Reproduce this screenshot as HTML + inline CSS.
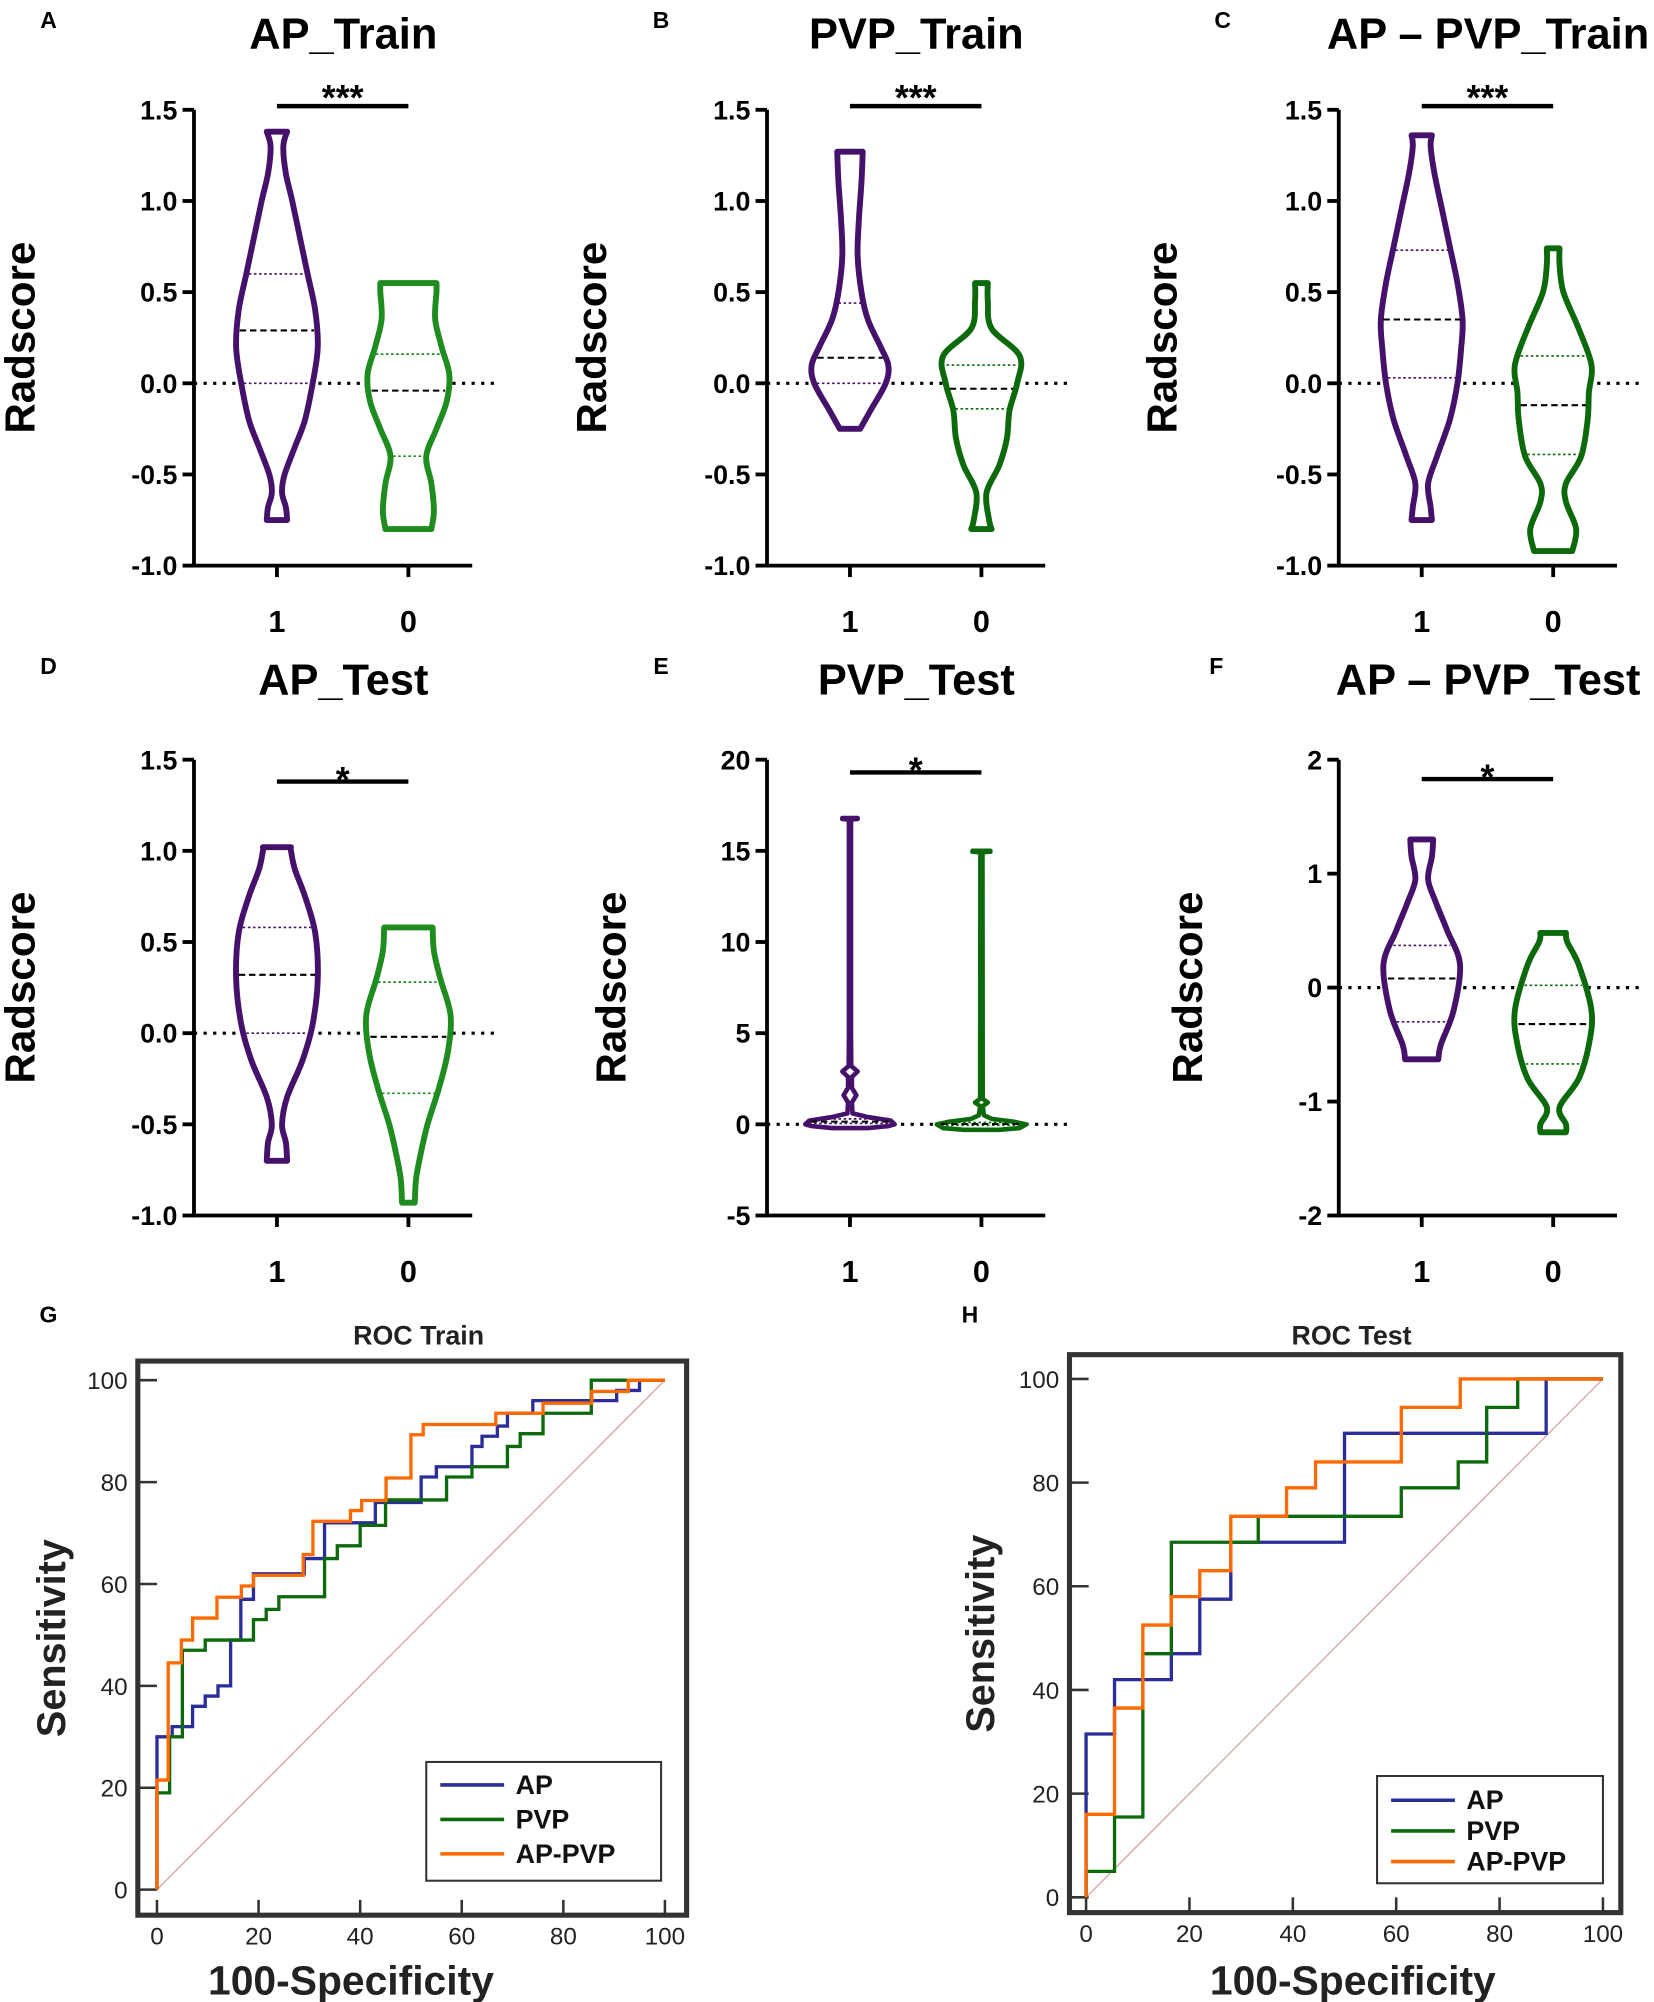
<!DOCTYPE html>
<html><head><meta charset="utf-8"><style>
html,body{margin:0;padding:0;background:#fff}
svg{display:block}
text{font-family:"Liberation Sans",Arial,sans-serif}
</style></head><body>
<svg id="fig" width="1654" height="2002" viewBox="0 0 1296 1568" preserveAspectRatio="none" xmlns="http://www.w3.org/2000/svg"></svg>
<script>
// ---------- Violin data (value, relative half-width) ----------
const A1_profile=[[-0.75,8],[-0.68,7],[-0.6,4],[-0.5,6],[-0.35,14],[-0.2,22],[0,28],[0.2,32],[0.4,30],[0.6,24],[0.8,18],[1.0,12],[1.15,7],[1.3,5],[1.38,8]];
const A0_profile=[[-0.8,18],[-0.7,20],[-0.55,18],[-0.4,14],[-0.25,22],[-0.1,30],[0.05,32],[0.2,26],[0.35,21],[0.5,22],[0.55,22]];
const B1_profile=[[-0.25,8],[-0.15,16],[0,28],[0.1,30],[0.2,24],[0.35,14],[0.5,9],[0.7,6],[0.9,7],[1.1,9],[1.27,10]];
const B0_profile=[[-0.8,8],[-0.75,6],[-0.6,4],[-0.45,14],[-0.3,20],[-0.15,22],[0,28],[0.15,30],[0.3,8],[0.45,5],[0.55,5]];
const C1_profile=[[-0.75,8],[-0.68,7],[-0.55,5],[-0.4,12],[-0.2,22],[0,28],[0.2,31],[0.35,32],[0.55,28],[0.75,22],[0.95,16],[1.15,10],[1.3,7],[1.36,8]];
const C0_profile=[[-0.92,15],[-0.8,18],[-0.65,10],[-0.55,10],[-0.4,22],[-0.2,27],[-0.05,28],[0.1,30],[0.3,20],[0.5,8],[0.65,5],[0.74,5]];
const D1_profile=[[-0.7,8],[-0.6,7],[-0.5,4],[-0.35,8],[-0.15,20],[0.05,28],[0.3,32],[0.55,30],[0.75,22],[0.9,14],[1.0,11],[1.02,11]];
const D0_profile=[[-0.93,5],[-0.8,6],[-0.65,10],[-0.5,15],[-0.3,24],[-0.1,31],[0.1,33],[0.3,25],[0.45,20],[0.58,19]];
const E1_profile=[[-0.2,14],[-0.1,30],[0,35],[0.2,32],[0.4,14],[0.6,2],[1.2,1.5],[1.6,5],[2,1.5],[2.6,1.5],[2.9,6],[3.2,1],[5,0.8],[16.72,0.8],[16.75,6],[16.8,6]];
const E0_profile=[[-0.3,14],[-0.2,30],[0,35],[0.15,25],[0.3,8],[0.5,2],[1,1],[1.2,5],[1.4,1],[14.92,0.8],[14.95,7],[15,7]];
const F1_profile=[[-0.63,13],[-0.5,15],[-0.2,25],[0.2,30],[0.5,20],[0.75,11],[0.95,5],[1.15,8],[1.3,9]];
const F0_profile=[[-1.27,10],[-1.2,10],[-1.05,5],[-0.8,20],[-0.5,28],[-0.2,30],[0.2,20],[0.4,11],[0.48,10]];
// quartiles: [q1, median, q3]
const A1_quart=[0,0.29,0.6], A0_quart=[-0.4,-0.04,0.16];
const B1_quart=[0,0.14,0.44], B0_quart=[-0.14,-0.03,0.1];
const C1_quart=[0.03,0.35,0.73], C0_quart=[-0.39,-0.12,0.15];
const D1_quart=[0,0.32,0.58], D0_quart=[-0.33,-0.02,0.28];
const E1_quart=[0.05,0.15,0.3], E0_quart=[-0.05,0.02,0.1];
const F1_quart=[-0.3,0.08,0.37], F0_quart=[-0.67,-0.32,0.02];
const violinCats=["1","0"];
const ticksTrain=[1.5,1.0,0.5,0.0,-0.5,-1.0];
const tickLabelsTrain=["1.5","1.0","0.5","0.0","-0.5","-1.0"];
const ticksE=[20,15,10,5,0,-5];
const tickLabelsE=["20","15","10","5","0","-5"];
const ticksF=[2,1,0,-1,-2];
const tickLabelsF=["2","1","0","-1","-2"];
const panelTitles=["AP_Train","PVP_Train","AP \u2013 PVP_Train","AP_Test","PVP_Test","AP \u2013 PVP_Test"];
const sigLabels=["***","***","***","*","*","*"];

// ---------- ROC data (100-specificity, sensitivity) ----------
const rocTrainAP=[[0,0],[0,30],[3,30],[3,32],[7,32],[7,36],[9.5,36],[9.5,38],[12,38],[12,40],[14.5,40],[14.5,49],[16.5,49],[16.5,57],[19,57],[19,62],[29,62],[29,65],[33,65],[33,72],[43,72],[43,76],[52,76],[52,81],[55,81],[55,83],[62,83],[62,87],[64,87],[64,89],[67,89],[67,91],[69,91],[69,93.5],[74,93.5],[74,96],[90.5,96],[90.5,98],[95,98],[95,100],[100,100]];
const rocTrainPVP=[[0,0],[0,19],[2.5,19],[2.5,30],[5,30],[5,47],[9.5,47],[9.5,49],[19,49],[19,53],[21.5,53],[21.5,55],[24,55],[24,57.5],[33,57.5],[33,65],[35.5,65],[35.5,67.5],[40,67.5],[40,71.5],[45,71.5],[45,76.5],[57,76.5],[57,81],[62,81],[62,83],[69,83],[69,87],[71.5,87],[71.5,89.5],[76,89.5],[76,93.5],[85.5,93.5],[85.5,100],[100,100]];
const rocTrainAPPVP=[[0,0],[0,21.5],[2.2,21.5],[2.2,44.5],[4.8,44.5],[4.8,49],[7,49],[7,53.3],[11.8,53.3],[11.8,57.4],[16.6,57.4],[16.6,59.6],[19,59.6],[19,61.7],[28.8,61.7],[28.8,65.8],[30.7,65.8],[30.7,72.3],[38.1,72.3],[38.1,74.4],[40.3,74.4],[40.3,76.4],[45.1,76.4],[45.1,80.8],[50,80.8],[50,89.3],[52.4,89.3],[52.4,91.3],[66.7,91.3],[66.7,93.5],[76,93.5],[76,95.5],[85.6,95.5],[85.6,97.8],[92.8,97.8],[92.8,100],[100,100]];
const rocTestAP=[[0,0],[0,16],[0,31.5],[5.5,31.5],[5.5,42],[16.5,42],[16.5,47],[22,47],[22,57.5],[28,57.5],[28,68.5],[50,68.5],[50,89.5],[89,89.5],[89,100],[100,100]];
const rocTestPVP=[[0,0],[0,5],[5.5,5],[5.5,15.5],[11,15.5],[11,47],[16.5,47],[16.5,68.5],[33.3,68.5],[33.3,73.5],[61,73.5],[61,79],[72,79],[72,84],[77.5,84],[77.5,94.5],[83.5,94.5],[83.5,100],[100,100]];
const rocTestAPPVP=[[0,0],[0,16],[5.5,16],[5.5,36.5],[11,36.5],[11,52.5],[16.5,52.5],[16.5,58],[22,58],[22,63],[28,63],[28,73.5],[38.8,73.5],[38.8,79],[44.4,79],[44.4,84],[61,84],[61,94.5],[72.4,94.5],[72.4,100],[100,100]];
const rocTicks=[0,20,40,60,80,100];
const rocLegend=["AP","PVP","AP-PVP"];

const NS="http://www.w3.org/2000/svg";
const svg=document.getElementById('fig');
function el(tag,attrs,parent,txt){const e=document.createElementNS(NS,tag);for(const k in attrs)e.setAttribute(k,attrs[k]);if(txt!==undefined)e.textContent=txt;(parent||svg).appendChild(e);return e;}
function grp(name){const g=el('g',{},svg);


return g;}
function catmull(pts){let d='M'+pts[0][0].toFixed(1)+','+pts[0][1].toFixed(1);
for(let i=0;i<pts.length-1;i++){const p0=pts[i-1]||pts[i],p1=pts[i],p2=pts[i+1],p3=pts[i+2]||p2;
const c1=[p1[0]+(p2[0]-p0[0])/6,p1[1]+(p2[1]-p0[1])/6],c2=[p2[0]-(p3[0]-p1[0])/6,p2[1]-(p3[1]-p1[1])/6];
d+=' C'+c1[0].toFixed(1)+','+c1[1].toFixed(1)+' '+c2[0].toFixed(1)+','+c2[1].toFixed(1)+' '+p2[0].toFixed(1)+','+p2[1].toFixed(1);}return d;}
function linear(pts){return 'M'+pts.map(p=>p[0].toFixed(1)+','+p[1].toFixed(1)).join(' L');}
function widthAt(prof,v){if(v<=prof[0][0])return prof[0][1];for(let i=0;i<prof.length-1;i++){const a=prof[i],b=prof[i+1];if(v>=a[0]&&v<=b[0]){return a[1]+(b[1]-a[1])*(v-a[0])/(b[0]-a[0]);}}return prof[prof.length-1][1];}

const PUR="#45116a", GL="#1f8c1f", GD="#0c6a0c";
const panels=[
 {id:'a',letter:'A',lx:38,ly:22,ax:152,yTop:86,yBot:443,min:-1,max:1.5,ticks:ticksTrain,tl:tickLabelsTrain,prof:[A1_profile,A0_profile],q:[A1_quart,A0_quart],g:GL,ylab:15,sigV:1.52,sw:4.6},
 {id:'b',letter:'B',lx:518,ly:22,ax:601,yTop:86,yBot:443,min:-1,max:1.5,ticks:ticksTrain,tl:tickLabelsTrain,prof:[B1_profile,B0_profile],q:[B1_quart,B0_quart],g:GD,ylab:463,sigV:1.52,sw:4.6},
 {id:'c',letter:'C',lx:958,ly:22,ax:1049,yTop:86,yBot:443,min:-1,max:1.5,ticks:ticksTrain,tl:tickLabelsTrain,prof:[C1_profile,C0_profile],q:[C1_quart,C0_quart],g:GD,ylab:910,sigV:1.52,sw:4.6},
 {id:'d',letter:'D',lx:38,ly:528,ax:152,yTop:595,yBot:952,min:-1,max:1.5,ticks:ticksTrain,tl:tickLabelsTrain,prof:[D1_profile,D0_profile],q:[D1_quart,D0_quart],g:GL,ylab:15,sigV:1.38,sw:4.6},
 {id:'e',letter:'E',lx:518,ly:528,ax:601,yTop:595,yBot:952,min:-5,max:20,ticks:ticksE,tl:tickLabelsE,prof:[E1_profile,E0_profile],q:[E1_quart,E0_quart],g:GD,ylab:478,sigV:19.3,sw:3.6,lin:true},
 {id:'f',letter:'F',lx:953,ly:528,ax:1049,yTop:595,yBot:952,min:-2,max:2,ticks:ticksF,tl:tickLabelsF,prof:[F1_profile,F0_profile],q:[F1_quart,F0_quart],g:GD,ylab:930,sigV:1.83,sw:4.6}
];
panels.forEach((p,pi)=>{
 const g=grp('panel-'+p.id);
 const y=v=>p.yBot-(v-p.min)/(p.max-p.min)*(p.yBot-p.yTop);
 const cx=[p.ax+65,p.ax+168];
 const t1=el('text',{x:p.lx,y:p.ly,'font-size':18,'font-weight':'bold','text-anchor':'middle'},g,p.letter);
 
 
 const tt=el('text',{x:p.ax+117,y:p.ly+16,'font-size':34,'font-weight':'bold','text-anchor':'middle'},g,panelTitles[pi]);
 
 
 const yl=el('text',{x:0,y:0,'font-size':33,'font-weight':'bold','text-anchor':'middle',transform:'translate('+(p.ylab+12)+','+((p.yTop+p.yBot)/2)+') rotate(-90)'},g,'Radscore');
 
 
 const ya=el('line',{x1:p.ax,y1:p.yTop,x2:p.ax,y2:p.yBot,stroke:'#000','stroke-width':3},g);
 
 
 const xa=el('line',{x1:p.ax-1.5,y1:p.yBot,x2:p.ax+218,y2:p.yBot,stroke:'#000','stroke-width':3},g);
 
 
 p.ticks.forEach((t,i)=>{
  el('line',{x1:p.ax-9,y1:y(t),x2:p.ax,y2:y(t),stroke:'#000','stroke-width':3},g);
  const tl=el('text',{x:p.ax-13,y:y(t)+7.5,'font-size':21,'font-weight':'bold','text-anchor':'end'},g,p.tl[i]);
  
  
 });
 violinCats.forEach((c,i)=>{
  el('line',{x1:cx[i],y1:p.yBot,x2:cx[i],y2:p.yBot+9,stroke:'#000','stroke-width':3},g);
  const ct=el('text',{x:cx[i],y:p.yBot+52,'font-size':24,'font-weight':'bold','text-anchor':'middle'},g,c);
  
  
 });
 const zl=el('line',{x1:p.ax,y1:y(0),x2:p.ax+238,y2:y(0),stroke:'#000','stroke-width':2.5,'stroke-dasharray':'2.5,5'},g);
 
 
 const sm=p.lin?linear:catmull;
 [0,1].forEach(i=>{
  const prof=p.prof[i];const col=i===0?PUR:p.g;
  const right=prof.map(d=>[cx[i]+d[1],y(d[0])]);
  const left=prof.slice().reverse().map(d=>[cx[i]-d[1],y(d[0])]);
  const top=prof[prof.length-1];
  let d=sm(right)+' L'+(cx[i]-top[1]).toFixed(1)+','+y(top[0]).toFixed(1)+' '+sm(left).replace('M',' L')+' Z';
  const v=el('path',{d:d,fill:'#fff',stroke:col,'stroke-width':p.sw,'stroke-linejoin':'round'},g);
  
  
  p.q[i].forEach((qv,k)=>{
   const w=widthAt(prof,qv);
   const ql=el('line',{x1:cx[i]-w+2,y1:y(qv),x2:cx[i]+w-2,y2:y(qv),stroke:k===1?'#000':col,'stroke-width':k===1?1.6:1.3,'stroke-dasharray':k===1?'5,3':'2,2'},g);
   
   
  });
 });
 const sb=el('line',{x1:cx[0],y1:y(p.sigV),x2:cx[1],y2:y(p.sigV),stroke:'#000','stroke-width':3.5},g);
 
 
 const st=el('text',{x:(cx[0]+cx[1])/2,y:y(p.sigV)+(sigLabels[pi].length>1?3:8),'font-size':28,'font-weight':'bold','text-anchor':'middle'},g,sigLabels[pi]);
 
 
});

// ---------- ROC ----------
const rocs=[
 {id:'train',letter:'G',lx:38,title:'ROC Train',fx0:108,fx1:538,fy0:1066,fy1:1500,x0:123,x100:521,y100:1081,y0:1480,series:[rocTrainAP,rocTrainPVP,rocTrainAPPVP],leg:[334,1380,184,93],ytl:40,xtc:275},
 {id:'test',letter:'H',lx:760,title:'ROC Test',fx0:838,fx1:1270,fy0:1061,fy1:1498,x0:851,x100:1256,y100:1080,y0:1486,series:[rocTestAP,rocTestPVP,rocTestAPPVP],leg:[1079,1391,177,84],ytl:768,xtc:1060}
];
const rocCols=["#2b2d9a","#0c6a0c","#ff6a00"];
rocs.forEach(r=>{
 const g=grp('roc-'+r.id);
 const X=v=>r.x0+v/100*(r.x100-r.x0), Y=v=>r.y0-v/100*(r.y0-r.y100);
 const lt=el('text',{x:r.lx,y:1036,'font-size':18,'font-weight':'bold','text-anchor':'middle'},g,r.letter);
 
 
 const tt=el('text',{x:(r.fx0+r.fx1)/2+5,y:1053,'font-size':21,'font-weight':'bold','text-anchor':'middle',fill:'#222'},g,r.title);
 
 
 const fr=el('rect',{x:r.fx0,y:r.fy0,width:r.fx1-r.fx0,height:r.fy1-r.fy0,fill:'none',stroke:'#333','stroke-width':4},g);
 
 
 rocTicks.forEach(t=>{
  el('line',{x1:r.fx0,y1:Y(t),x2:r.fx0+15,y2:Y(t),stroke:'#333','stroke-width':2},g);
  el('line',{x1:X(t),y1:r.fy1,x2:X(t),y2:r.fy1-12,stroke:'#333','stroke-width':2},g);
  const yt=el('text',{x:r.fx0-8,y:Y(t)+7,'font-size':19,'text-anchor':'end',fill:'#222'},g,String(t));
  
  
  const xt=el('text',{x:X(t),y:r.fy1+23,'font-size':19,'text-anchor':'middle',fill:'#222'},g,String(t));
  
  
 });
 const xl=el('text',{x:r.xtc,y:1562,'font-size':32,'font-weight':'bold','text-anchor':'middle',fill:'#222'},g,'100-Specificity');
 
 
 const yl=el('text',{x:0,y:0,'font-size':31,'font-weight':'bold','text-anchor':'middle',fill:'#222',transform:'translate('+(r.ytl+11)+','+((r.fy0+r.fy1)/2)+') rotate(-90)'},g,'Sensitivity');
 
 
 const dg=el('line',{x1:X(0),y1:Y(0),x2:X(100),y2:Y(100),stroke:'#d8a0a0','stroke-width':1},g);
 
 
 r.series.forEach((s,i)=>{
  const pl=el('polyline',{points:s.map(d=>X(d[0]).toFixed(1)+','+Y(d[1]).toFixed(1)).join(' '),fill:'none',stroke:rocCols[i],'stroke-width':2.6},g);
  
  
 });
 const [lx,ly,lw,lh]=r.leg;
 const lg=el('g',{},g);
 
 
 el('rect',{x:lx,y:ly,width:lw,height:lh,fill:'#fff',stroke:'#333','stroke-width':1.6},lg);
 const step=(lh-12)/3;
 rocLegend.forEach((n,i)=>{
  const yy=ly+18+i*step+(r.id==='test'?1:0);
  el('line',{x1:lx+11,y1:yy,x2:lx+61,y2:yy,stroke:rocCols[i],'stroke-width':2.8},lg);
  const tx=el('text',{x:lx+70,y:yy+7,'font-size':21,'font-weight':'bold',fill:'#111'},lg,n);
  
  
 });
});
</script>
</body></html>
